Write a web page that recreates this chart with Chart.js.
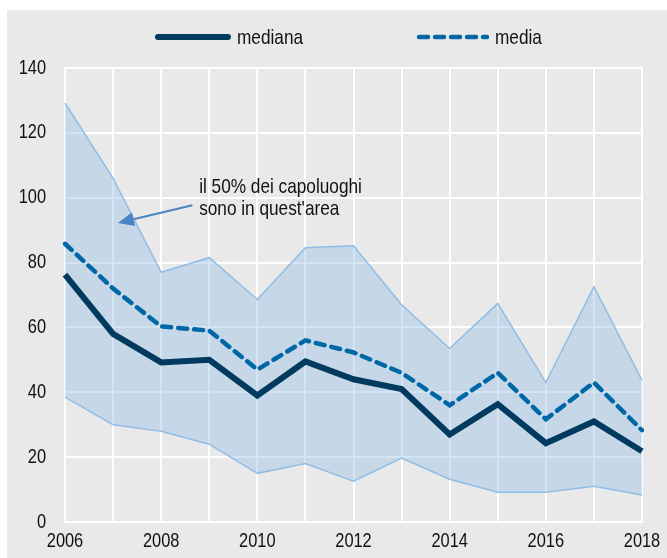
<!DOCTYPE html>
<html>
<head>
<meta charset="utf-8">
<script src="https://cdn.jsdelivr.net/npm/chart.js@4.4.1/dist/chart.umd.min.js"></script>
<style>
    body { margin: 0; background: #fff; width: 667px; height: 558px; overflow: hidden; }
    #panel { position: absolute; left: 7px; top: 10px; width: 660px; height: 548px; background: #e9e9e9; }
    #chart { position: absolute; left: 0; top: 0; }
    .legend-item { position: absolute; top: 5px; height: 44px; display: flex; align-items: center;
        font-family: 'Liberation Sans', Arial, sans-serif; font-size: 21px; color: #111; }
    .legend-item svg { margin-right: 6px; }
    .legend-item span { display: inline-block; transform: scaleX(0.82); transform-origin: left center; }
</style>
</head>
<body>
<div id="panel">
    <canvas id="chart" width="660" height="548"></canvas>
    <div class="legend-item" style="left:148px;">
        <svg width="76" height="10"><line x1="3" y1="5" x2="73" y2="5" stroke="#003a5f" stroke-width="6" stroke-linecap="round"/></svg>
        <span>mediana</span>
    </div>
    <div class="legend-item" style="left:408px;">
        <svg width="74" height="10"><line x1="4" y1="5" x2="72" y2="5" stroke="#0067a6" stroke-width="4.5" stroke-linecap="round" stroke-dasharray="9 7"/></svg>
        <span>media</span>
    </div>
</div>
<script>
// Data
const years = ['2006', '2007', '2008', '2009', '2010', '2011', '2012', '2013', '2014', '2015', '2016', '2017', '2018'];
const mediana = [76.3, 58, 49.2, 50, 39, 49.5, 44, 41, 27, 36.3, 24.3, 31, 21.8];
const media = [85.8, 72, 60.3, 59, 47, 56, 52.3, 46, 36, 46, 31.7, 43, 28.3];
const upperQuartile = [129.2, 106, 77, 81.5, 68.6, 84.6, 85.2, 67, 53.5, 67.4, 43, 72.6, 43.7];
const lowerQuartile = [38.5, 30, 28, 24, 15, 18, 12.6, 19.7, 13.2, 9.2, 9.2, 11, 8.3];
const yTicks = [0, 20, 40, 60, 80, 100, 120, 140];

const annotationLines = ['il 50% dei capoluoghi', "sono in quest'area"];

// no narrow font installed, so text is squeezed horizontally
const FONT = "'Liberation Sans', Arial, sans-serif";
const SQUEEZE = 0.82;

function narrowText(ctx, text, x, y, align) {
    ctx.save();
    ctx.translate(x, y);
    ctx.scale(SQUEEZE, 1);
    ctx.textAlign = align;
    ctx.fillText(text, 0, 0);
    ctx.restore();
}

// tick labels, drawn at the scales' own pixel positions
const tickLabelPlugin = {
    id: 'narrowTicks',
    afterDraw(chart) {
        const ctx = chart.ctx;
        const x = chart.scales.x;
        const y = chart.scales.y;
        const area = chart.chartArea;
        ctx.save();
        ctx.fillStyle = '#111';
        ctx.font = '20px ' + FONT;
        ctx.textBaseline = 'middle';
        yTicks.forEach(v => {
            narrowText(ctx, String(v), area.left - 19, y.getPixelForValue(v), 'right');
        });
        years.forEach((label, i) => {
            if (i % 2 === 0) {
                narrowText(ctx, label, x.getPixelForValue(i), area.bottom + 19.5, 'center');
            }
        });
        ctx.restore();
    }
};

// the note and arrow pointing into the band
const annotationPlugin = {
    id: 'bandNote',
    afterDatasetsDraw(chart) {
        const ctx = chart.ctx;
        const x = chart.scales.x;
        const y = chart.scales.y;
        ctx.save();
        ctx.fillStyle = '#111';
        ctx.font = '21px ' + FONT;
        ctx.textBaseline = 'middle';
        narrowText(ctx, annotationLines[0], x.getPixelForValue(2.79), y.getPixelForValue(103.3), 'left');
        narrowText(ctx, annotationLines[1], x.getPixelForValue(2.79), y.getPixelForValue(96.5), 'left');

        const x1 = x.getPixelForValue(2.65), y1 = y.getPixelForValue(97.7);
        const x2 = x.getPixelForValue(1.10), y2 = y.getPixelForValue(92.2);
        const ang = Math.atan2(y2 - y1, x2 - x1);
        const headLen = 16, headW = 7;
        const bx = x2 - Math.cos(ang) * headLen, by = y2 - Math.sin(ang) * headLen;
        ctx.strokeStyle = '#4a84c4';
        ctx.fillStyle = '#4a84c4';
        ctx.lineWidth = 2;
        ctx.beginPath();
        ctx.moveTo(x1, y1);
        ctx.lineTo(bx, by);
        ctx.stroke();
        ctx.beginPath();
        ctx.moveTo(x2, y2);
        ctx.lineTo(bx + Math.sin(ang) * headW, by - Math.cos(ang) * headW);
        ctx.lineTo(bx - Math.sin(ang) * headW, by + Math.cos(ang) * headW);
        ctx.closePath();
        ctx.fill();
        ctx.restore();
    }
};

new Chart(document.getElementById('chart'), {
    type: 'line',
    data: {
        labels: years,
        datasets: [{
            label: 'q3',
            data: upperQuartile,
            borderColor: '#8fbde6',
            borderWidth: 1.5,
            backgroundColor: 'rgba(150, 190, 230, 0.42)',
            fill: '+1',
            pointRadius: 0,
            tension: 0,
            order: 3
        }, {
            label: 'q1',
            data: lowerQuartile,
            borderColor: '#8fbde6',
            borderWidth: 1.5,
            fill: false,
            pointRadius: 0,
            tension: 0,
            order: 3
        }, {
            label: 'media',
            data: media,
            borderColor: '#0067a6',
            borderWidth: 4.5,
            borderDash: [9, 7],
            borderCapStyle: 'round',
            fill: false,
            pointRadius: 0,
            tension: 0,
            order: 2
        }, {
            label: 'mediana',
            data: mediana,
            borderColor: '#003a5f',
            borderWidth: 6,
            borderJoinStyle: 'miter',
            fill: false,
            pointRadius: 0,
            tension: 0,
            order: 1
        }]
    },
    options: {
        responsive: false,
        animation: false,
        layout: { padding: { top: 58, right: 25, bottom: 0, left: 0 } },
        plugins: {
            legend: { display: false },
            tooltip: { enabled: false }
        },
        scales: {
            x: {
                grid: { color: '#ffffff', lineWidth: 2, drawTicks: false },
                border: { color: '#ffffff', width: 2 },
                ticks: { display: false, autoSkip: false },
                afterFit: function(scale) { scale.height = 36; }
            },
            y: {
                min: yTicks[0],
                max: yTicks[yTicks.length - 1],
                grid: { color: '#ffffff', lineWidth: 2, drawTicks: false },
                border: { color: '#ffffff', width: 2 },
                afterBuildTicks: function(scale) {
                    scale.ticks = yTicks.map(v => ({ value: v }));
                },
                ticks: { display: false },
                afterFit: function(scale) { scale.width = 58; }
            }
        }
    },
    plugins: [annotationPlugin, tickLabelPlugin]
});
</script>
</body>
</html>
